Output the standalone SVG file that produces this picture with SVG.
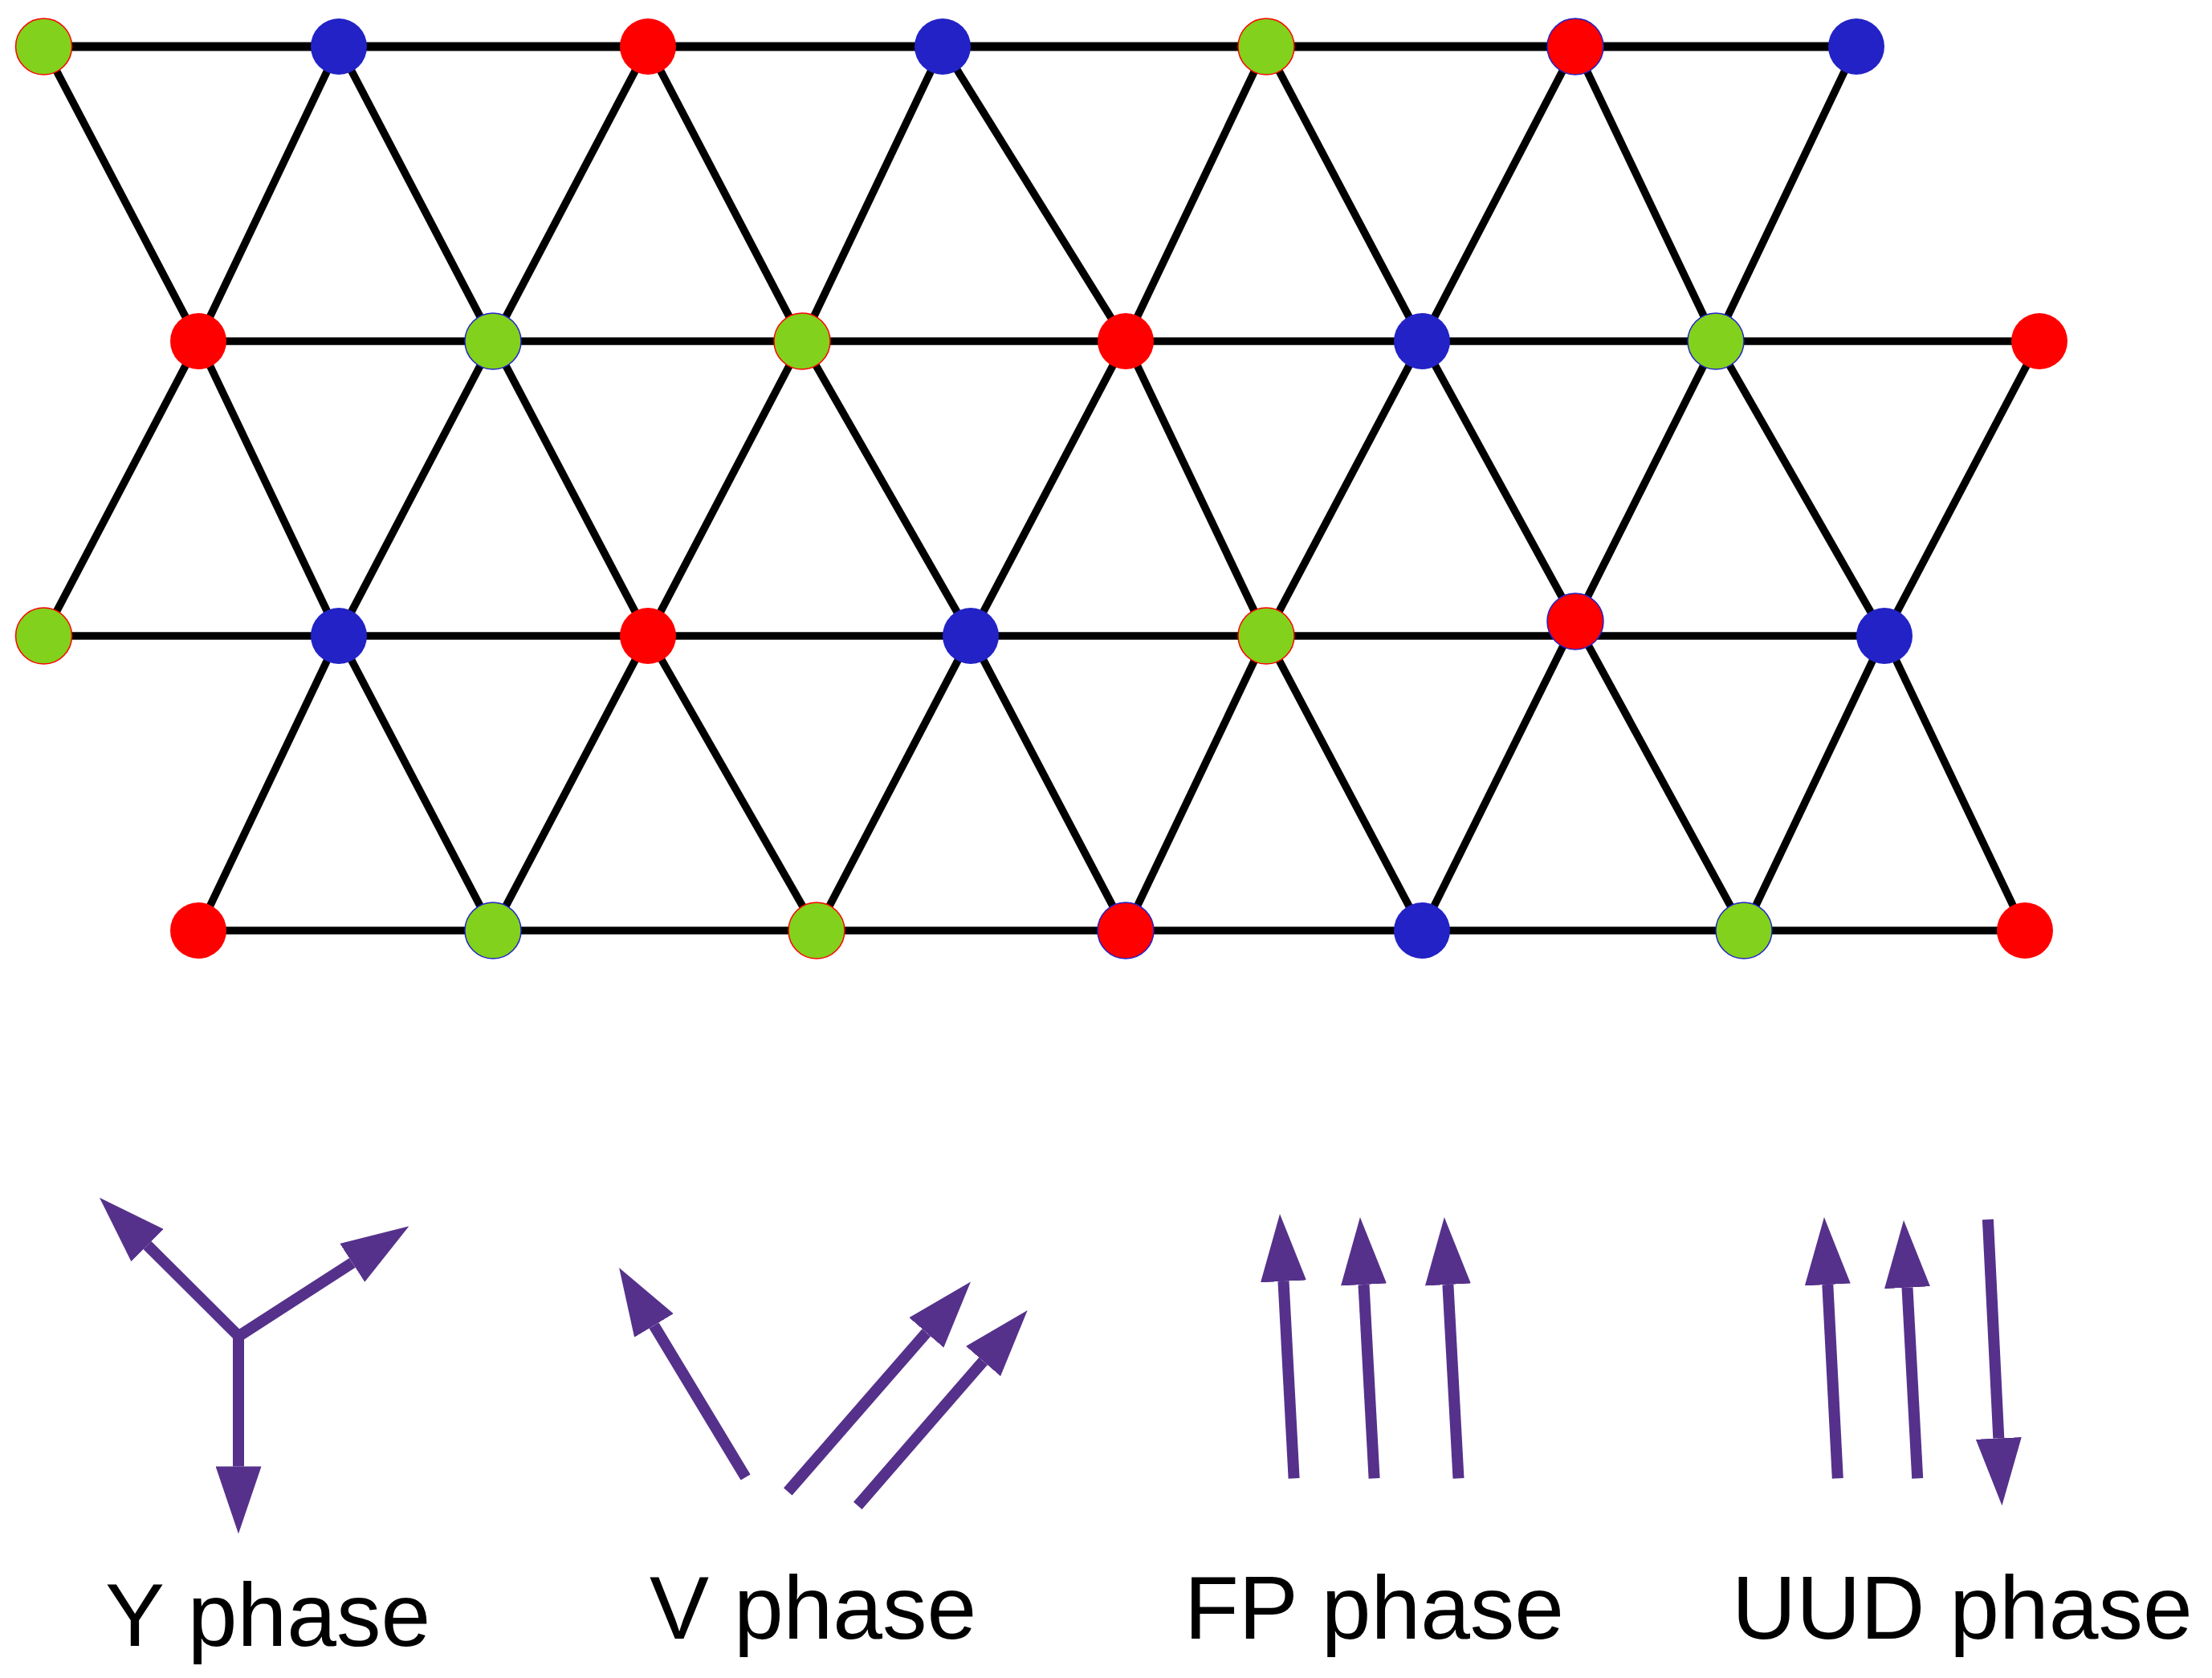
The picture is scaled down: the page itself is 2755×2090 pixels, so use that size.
<svg xmlns="http://www.w3.org/2000/svg" width="2755" height="2090" viewBox="0 0 2755 2090">
<style>
.e{stroke:#000;stroke-width:9.5;fill:none}
.h0{stroke:#000;stroke-width:11;fill:none}
.g{fill:#82d11c}
.b{fill:#2222c6}
.r{fill:#ff0000}
.or{stroke:#ff0000;stroke-width:1.5}
.ob{stroke:#2222c6;stroke-width:1.5}
.spin{stroke:#55318b;stroke-width:14;fill:none;marker-end:url(#ah)}
.lbl{font-family:"Liberation Sans",Arial,sans-serif;font-size:111px;fill:#000}
</style>
<defs>
<marker id="ah" markerUnits="userSpaceOnUse" viewBox="0 0 84 57" markerWidth="84" markerHeight="57" refX="0" refY="28.5" orient="auto">
<path d="M0,0 L84,28.5 L0,57 Z" fill="#55318b"/>
</marker>
</defs>
<rect width="2755" height="2090" fill="#fff"/>
<g id="connectors">
<line class="h0" x1="54.5" y1="58" x2="2312" y2="58"/>
<line class="e" x1="247" y1="425" x2="2540" y2="425"/>
<line class="e" x1="54.5" y1="792" x2="2347" y2="792"/>
<line class="e" x1="247" y1="1159" x2="2522" y2="1159"/>
<!-- row0 to row1 -->
<line class="e" x1="54.5" y1="58" x2="247" y2="425"/>
<line class="e" x1="422" y1="58" x2="247" y2="425"/>
<line class="e" x1="422" y1="58" x2="614" y2="425"/>
<line class="e" x1="807" y1="58" x2="614" y2="425"/>
<line class="e" x1="807" y1="58" x2="999" y2="425"/>
<line class="e" x1="1174" y1="58" x2="999" y2="425"/>
<line class="e" x1="1174" y1="58" x2="1402" y2="425"/>
<line class="e" x1="1577" y1="58" x2="1402" y2="425"/>
<line class="e" x1="1577" y1="58" x2="1771" y2="425"/>
<line class="e" x1="1962" y1="58" x2="1771" y2="425"/>
<line class="e" x1="1962" y1="58" x2="2137" y2="425"/>
<line class="e" x1="2312" y1="58" x2="2137" y2="425"/>
<!-- row1 to row2 -->
<line class="e" x1="247" y1="425" x2="54.5" y2="792"/>
<line class="e" x1="247" y1="425" x2="422" y2="792"/>
<line class="e" x1="614" y1="425" x2="422" y2="792"/>
<line class="e" x1="614" y1="425" x2="807" y2="792"/>
<line class="e" x1="999" y1="425" x2="807" y2="792"/>
<line class="e" x1="999" y1="425" x2="1209" y2="792"/>
<line class="e" x1="1402" y1="425" x2="1209" y2="792"/>
<line class="e" x1="1402" y1="425" x2="1577" y2="792"/>
<line class="e" x1="1771" y1="425" x2="1577" y2="792"/>
<line class="e" x1="1771" y1="425" x2="1962" y2="774"/>
<line class="e" x1="2137" y1="425" x2="1962" y2="774"/>
<line class="e" x1="2137" y1="425" x2="2347" y2="792"/>
<line class="e" x1="2540" y1="425" x2="2347" y2="792"/>
<!-- row2 to row3 -->
<line class="e" x1="422" y1="792" x2="247" y2="1159"/>
<line class="e" x1="422" y1="792" x2="614" y2="1159"/>
<line class="e" x1="807" y1="792" x2="614" y2="1159"/>
<line class="e" x1="807" y1="792" x2="1017" y2="1159"/>
<line class="e" x1="1209" y1="792" x2="1017" y2="1159"/>
<line class="e" x1="1209" y1="792" x2="1402" y2="1159"/>
<line class="e" x1="1577" y1="792" x2="1402" y2="1159"/>
<line class="e" x1="1577" y1="792" x2="1771" y2="1159"/>
<line class="e" x1="1962" y1="774" x2="1771" y2="1159"/>
<line class="e" x1="1962" y1="774" x2="2172" y2="1159"/>
<line class="e" x1="2347" y1="792" x2="2172" y2="1159"/>
<line class="e" x1="2347" y1="792" x2="2522" y2="1159"/>
</g>
<g id="nodes">
<g id="n0_0"><circle class="g or" cx="54.5" cy="58" r="35"/></g>
<g id="n0_1"><circle class="b" cx="422" cy="58" r="35"/></g>
<g id="n0_2"><circle class="r" cx="807" cy="58" r="35"/></g>
<g id="n0_3"><circle class="b" cx="1174" cy="58" r="35"/></g>
<g id="n0_4"><circle class="g or" cx="1577" cy="58" r="35"/></g>
<g id="n0_5"><circle class="r ob" cx="1962" cy="58" r="35"/></g>
<g id="n0_6"><circle class="b" cx="2312" cy="58" r="35"/></g>
<g id="n1_0"><circle class="r" cx="247" cy="425" r="35"/></g>
<g id="n1_1"><circle class="g ob" cx="614" cy="425" r="35"/></g>
<g id="n1_2"><circle class="g or" cx="999" cy="425" r="35"/></g>
<g id="n1_3"><circle class="r" cx="1402" cy="425" r="35"/></g>
<g id="n1_4"><circle class="b" cx="1771" cy="425" r="35"/></g>
<g id="n1_5"><circle class="g ob" cx="2137" cy="425" r="35"/></g>
<g id="n1_6"><circle class="r" cx="2540" cy="425" r="35"/></g>
<g id="n2_0"><circle class="g or" cx="54.5" cy="792" r="35"/></g>
<g id="n2_1"><circle class="b" cx="422" cy="792" r="35"/></g>
<g id="n2_2"><circle class="r" cx="807" cy="792" r="35"/></g>
<g id="n2_3"><circle class="b" cx="1209" cy="792" r="35"/></g>
<g id="n2_4"><circle class="g or" cx="1577" cy="792" r="35"/></g>
<g id="n2_5"><circle class="r ob" cx="1962" cy="774" r="35"/></g>
<g id="n2_6"><circle class="b" cx="2347" cy="792" r="35"/></g>
<g id="n3_0"><circle class="r" cx="247" cy="1159" r="35"/></g>
<g id="n3_1"><circle class="g ob" cx="614" cy="1159" r="35"/></g>
<g id="n3_2"><circle class="g or" cx="1017" cy="1159" r="35"/></g>
<g id="n3_3"><circle class="r ob" cx="1402" cy="1159" r="35"/></g>
<g id="n3_4"><circle class="b" cx="1771" cy="1159" r="35"/></g>
<g id="n3_5"><circle class="g ob" cx="2172" cy="1159" r="35"/></g>
<g id="n3_6"><circle class="r" cx="2522" cy="1159" r="35"/></g>
</g>
<g id="y-phase">
<line class="spin" x1="297" y1="1660" x2="297" y2="1826.4"/>
<line class="spin" x1="300" y1="1667" x2="183.5" y2="1551"/>
<line class="spin" x1="293" y1="1667" x2="438.8" y2="1572.9"/>
<text class="lbl" x="131" y="2050">Y phase</text>
</g>
<g id="v-phase">
<line class="spin" x1="928.6" y1="1840" x2="814.5" y2="1650.9"/>
<line class="spin" x1="981.3" y1="1857.9" x2="1153.8" y2="1659.8"/>
<line class="spin" x1="1068.3" y1="1875.3" x2="1224.6" y2="1695.4"/>
<text class="lbl" x="809" y="2041">V phase</text>
</g>
<g id="fp-phase">
<line class="spin" x1="1611.6" y1="1841.3" x2="1598.5" y2="1595.9"/>
<line class="spin" x1="1711.6" y1="1841.3" x2="1698.5" y2="1600"/>
<line class="spin" x1="1816.5" y1="1841.3" x2="1803.4" y2="1600"/>
<text class="lbl" x="1475" y="2041">FP phase</text>
</g>
<g id="uud-phase">
<line class="spin" x1="2288.8" y1="1841.3" x2="2276.3" y2="1600"/>
<line class="spin" x1="2388.2" y1="1841.3" x2="2375.5" y2="1603.7"/>
<line class="spin" x1="2475.9" y1="1518.8" x2="2489.3" y2="1791.4"/>
<text class="lbl" x="2157" y="2041">UUD phase</text>
</g>
</svg>
